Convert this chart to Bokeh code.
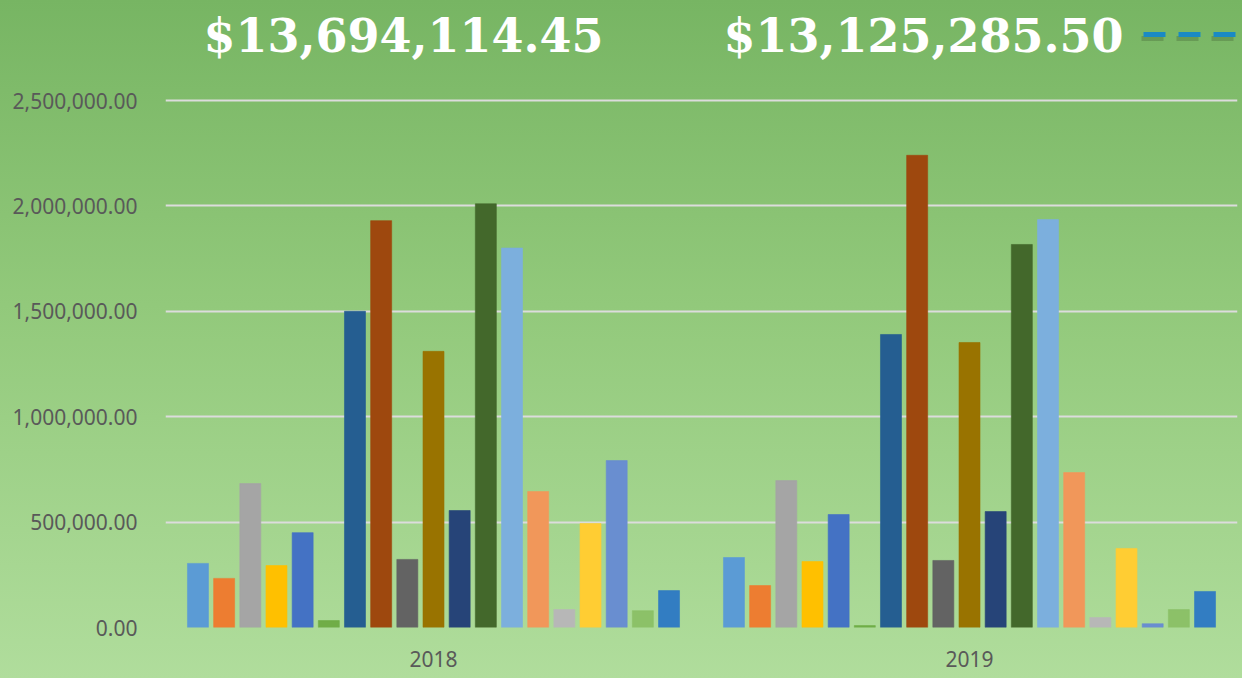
from bokeh.plotting import figure
from bokeh.models import (FactorRange, Range1d, FixedTicker, Label, Arrow,
                          NumeralTickFormatter, ColumnDataSource)
from bokeh.transform import dodge
from bokeh.embed import file_html
from bokeh.resources import INLINE

years = ["2018", "2019"]
series_2018 = [304000, 233000, 683000, 294000, 450000, 33000, 1500000, 1930000,
               323000, 1310000, 555000, 2010000, 1800000, 645000, 85000, 493000,
               792000, 80000, 175000]
series_2019 = [332000, 199000, 697000, 313000, 536000, 9000, 1390000, 2240000,
               318000, 1352000, 550000, 1817000, 1935000, 735000, 47000, 375000,
               18000, 85000, 171000]
colors = ["#5B9BD5", "#ED7D31", "#A5A5A5", "#FFC000", "#4472C4", "#70AD47",
          "#255E91", "#9E480E", "#636363", "#997300", "#264478", "#43682B",
          "#7CAFDD", "#F1975A", "#B7B7B7", "#FFCD33", "#698ED0", "#8CC168",
          "#327DC2"]
totals = ["$13,694,114.45", "$13,125,285.50"]
y_ticks = [0, 500000, 1000000, 1500000, 2000000, 2500000]

n = len(colors)
data = {"year": years}
for i in range(n):
    data[f"s{i}"] = [series_2018[i], series_2019[i]]
src = ColumnDataSource(data)

W, H = 1242, 678
left, right, bottom = 165, 5, 51
frame_h = H - bottom
grid_top_px = 100
y_end = y_ticks[-1] * frame_h / (frame_h - grid_top_px)

p = figure(x_range=FactorRange(factors=years, range_padding=0),
           y_range=Range1d(0, y_end),
           width=W, height=H, output_backend="svg", toolbar_location=None,
           min_border_left=left, min_border_right=right,
           min_border_top=0, min_border_bottom=bottom)

p.background_fill_color = None
p.border_fill_color = None
p.outline_line_color = None
p.styles = {"background": "linear-gradient(to bottom, #77B563 0%, #92C97B 45%, #B0DD9C 100%)"}

pitch = 26.17 / 536
bw = 21.0 / 536
for i in range(n):
    p.vbar(x=dodge("year", (i - (n - 1) / 2) * pitch, range=p.x_range),
           top=f"s{i}", width=bw, source=src,
           fill_color=colors[i], line_color=colors[i], line_alpha=0.6)

# axes
p.yaxis.ticker = FixedTicker(ticks=y_ticks)
p.yaxis.formatter = NumeralTickFormatter(format="0,0.00")
p.yaxis.axis_line_color = None
p.yaxis.major_tick_line_color = None
p.yaxis.minor_tick_line_color = None
p.yaxis.major_label_text_font = "Noto Sans"
p.yaxis.major_label_text_font_size = "21px"
p.yaxis.major_label_text_color = "#595959"
p.yaxis.major_label_standoff = 22

p.xaxis.axis_line_color = None
p.xaxis.major_tick_line_color = None
p.xaxis.minor_tick_line_color = None
p.xaxis.major_label_text_font = "Noto Sans"
p.xaxis.major_label_text_font_size = "21px"
p.xaxis.major_label_text_color = "#595959"
p.xaxis.major_label_standoff = 17

p.xgrid.grid_line_color = None
p.ygrid.grid_line_color = "#DCDCDC"
p.ygrid.grid_line_width = 2
p.ygrid.ticker = FixedTicker(ticks=y_ticks)

# totals
for txt, x0 in zip(totals, [38, 558]):
    p.add_layout(Label(x=x0, y=frame_h - 35, x_units="screen", y_units="screen",
                       text=txt, text_font="DejaVu Serif", text_font_style="bold",
                       text_font_size="46px", text_color="white",
                       text_align="left", text_baseline="alphabetic"))

# dashed line
p.add_layout(Arrow(end=None, x_start=976, y_start=frame_h - 38, x_end=1080,
                   y_end=frame_h - 38, start_units="screen", end_units="screen",
                   line_color="#3A5A30", line_alpha=0.3, line_width=5,
                   line_dash="22 13"))
p.add_layout(Arrow(end=None, x_start=978, y_start=frame_h - 34, x_end=1080,
                   y_end=frame_h - 34, start_units="screen", end_units="screen",
                   line_color="#1A8AC4", line_width=5, line_dash="22 13"))

open("out.html", "w").write(file_html(p, INLINE))
